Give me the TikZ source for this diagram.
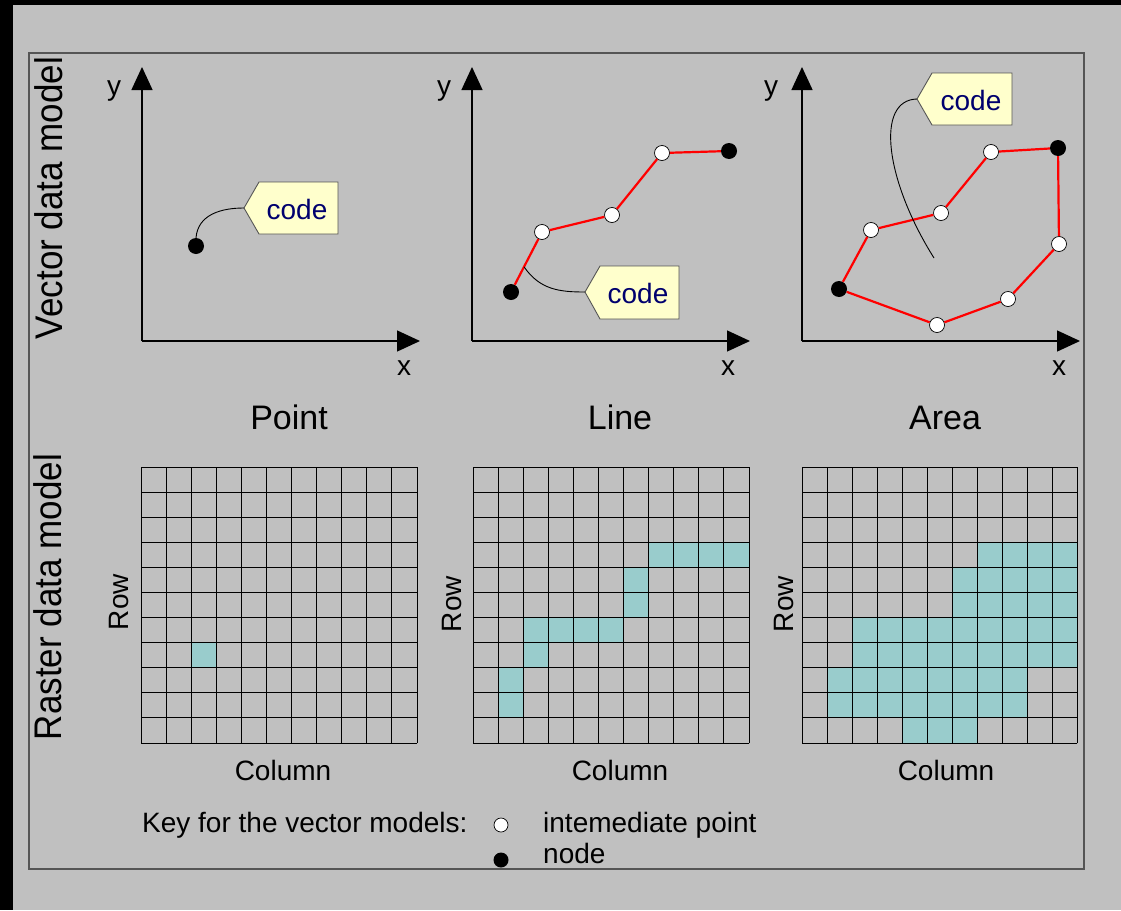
\documentclass[tikz,border=0pt]{standalone}
\usepackage{fontspec}
\setmainfont{Liberation Sans}
\usetikzlibrary{arrows.meta,calc}
\definecolor{bggray}{RGB}{192,192,192}
\definecolor{framegray}{RGB}{85,85,85}
\definecolor{tagfill}{RGB}{255,255,204}
\definecolor{codeblue}{RGB}{0,0,110}
\definecolor{cellfill}{RGB}{153,204,204}
\newcommand\myfs[1]{\fontsize{#1}{#1}\selectfont}
\newcommand\rastergrid{%
  \foreach \k in {0,...,11} {
    \draw[gridln] (\k,0) -- (\k,11);
    \draw[gridln] (0,\k) -- (11,\k);
  }}
\tikzset{
  axis/.style={-{Triangle[length=23pt,width=21pt]}, line width=1.3pt, black},
  inter/.style={circle, draw=black, fill=white, minimum size=15pt, inner sep=0pt, line width=0.7pt},
  nodept/.style={circle, fill=black, minimum size=16pt, inner sep=0pt},
  redline/.style={red, line width=2.2pt},
  leader/.style={black, line width=0.9pt},
  tagshape/.style={draw=framegray, fill=tagfill, line width=0.9pt},
  codetext/.style={text=codeblue, font=\myfs{28}, inner sep=0pt},
  lbl/.style={font=\myfs{28}, inner sep=0pt, anchor=base},
  title/.style={font=\myfs{34}, inner sep=0pt, anchor=base},
  gridln/.style={black, line width=0.9pt, line cap=rect},
  keytext/.style={anchor=base west, inner sep=0pt, font=\myfs{28}},
}
\begin{document}
\begin{tikzpicture}[x=1pt,y=-1pt]
\useasboundingbox (0,0) rectangle (1121,910);
\fill[bggray] (0,0) rectangle (1121,910);
\fill[black] (0,0) rectangle (1121,5);
\fill[black] (0,0) rectangle (13,910);
\draw[framegray, line width=1.2pt] (29,53) rectangle (1084,869);

% side labels
\node[rotate=90, anchor=base, inner sep=0pt, font=\myfs{35}] (vlab) at (62,198) {\scalebox{1}[1.1]{Vector data model}};
\node[rotate=90, anchor=base, inner sep=0pt, font=\myfs{35}] (rlab) at (61,597) {\scalebox{1}[1.1]{Raster data model}};

% ---------- axes ----------
\coordinate (o1) at (142,341);
\coordinate (o2) at (472,341);
\coordinate (o3) at (802,341);
\coordinate (y1) at (142,67);
\coordinate (y2) at (472,67);
\coordinate (y3) at (802,67);
\coordinate (x1) at (420,341);
\coordinate (x2) at (750,341);
\coordinate (x3) at (1080,341);
\draw[axis] (o1) -- (y1);
\draw[axis] (o1) -- (x1);
\draw[axis] (o2) -- (y2);
\draw[axis] (o2) -- (x2);
\draw[axis] (o3) -- (y3);
\draw[axis] (o3) -- (x3);
\node[lbl] (ly1) at (114,95) {y};
\node[lbl] (ly2) at (444,95) {y};
\node[lbl] (ly3) at (771,95) {y};
\node[lbl] (lx1) at (404,375) {x};
\node[lbl] (lx2) at (728,375) {x};
\node[lbl] (lx3) at (1059,375) {x};

% ---------- Point ----------
\node[nodept] (p1) at (196,246) {};
\coordinate (ptip) at (244,208);
\draw[tagshape] (ptip) -- ++(15,-26) -- ++(79,0) -- ++(0,52) -- ++(-79,0) -- cycle;
\node[codetext] (ptag) at (297,209) {code};
\draw[leader] (p1.north) .. controls (198,214) and (222,208) .. (ptip);

% ---------- Line ----------
\node[nodept] (l1) at (511,292) {};
\node[inter] (l2) at (542,232) {};
\node[inter] (l3) at (612,215) {};
\node[inter] (l4) at (662,153) {};
\node[nodept] (l5) at (729,151) {};
\draw[redline] (l1) -- (l2) -- (l3) -- (l4) -- (l5);
\coordinate (lfree) at ($(l1)!0.42!(l2)$);
\coordinate (ltip) at (585,292);
\draw[tagshape] (ltip) -- ++(15,-26) -- ++(79,0) -- ++(0,53) -- ++(-79,0) -- cycle;
\node[codetext] (ltag) at (638,293) {code};
\draw[leader] (lfree) .. controls (540,290) and (560,292) .. (ltip);

% ---------- Area ----------
\node[nodept] (a1) at (839,289) {};
\node[inter] (a2) at (871,230) {};
\node[inter] (a3) at (941,213) {};
\node[inter] (a4) at (991,152) {};
\node[nodept] (a5) at (1058,148) {};
\node[inter] (a6) at (1059,244) {};
\node[inter] (a7) at (1008,299) {};
\node[inter] (a8) at (937,325) {};
\draw[redline] (a1) -- (a2) -- (a3) -- (a4) -- (a5) -- (a6) -- (a7) -- (a8) -- (a1);
\coordinate (atip) at (917,99);
\coordinate (afree) at (934,258);
\draw[tagshape] (atip) -- ++(15,-26) -- ++(80,0) -- ++(0,52) -- ++(-80,0) -- cycle;
\node[codetext] (atag) at (971,100) {code};
\draw[leader] (atip) .. controls (875,100) and (885,180) .. (afree);

% titles
\node[title] (tpoint) at (289,429) {Point};
\node[title] (tline) at (620,429) {Line};
\node[title] (tarea) at (945,429) {Area};

% ---------- grids ----------
\begin{scope}[shift={(141,467)}, x=25.09pt, y=-25.09pt]
  \fill[cellfill] (2,7) rectangle (3,8);
  \rastergrid
\end{scope}
\begin{scope}[shift={(473,467)}, x=25.09pt, y=-25.09pt]
  \fill[cellfill] (7,3) rectangle (11,4);
  \fill[cellfill] (6,4) rectangle (7,6);
  \fill[cellfill] (2,6) rectangle (6,7);
  \fill[cellfill] (2,7) rectangle (3,8);
  \fill[cellfill] (1,8) rectangle (2,10);
  \rastergrid
\end{scope}
\begin{scope}[shift={(802,467)}, x=25.0pt, y=-25.09pt]
  \fill[cellfill] (7,3) rectangle (11,4);
  \fill[cellfill] (6,4) rectangle (11,6);
  \fill[cellfill] (2,6) rectangle (11,8);
  \fill[cellfill] (1,8) rectangle (9,10);
  \fill[cellfill] (4,10) rectangle (7,11);
  \rastergrid
\end{scope}

\node[lbl] (c1) at (283,780) {Column};
\node[lbl] (c2) at (620,780) {Column};
\node[lbl] (c3) at (946,780) {Column};
\node[lbl, rotate=90] (r1) at (128,602) {Row};
\node[lbl, rotate=90] (r2) at (461,604) {Row};
\node[lbl, rotate=90] (r3) at (793,604) {Row};

% ---------- key ----------
\node[keytext] (keylbl) at (142,832) {Key for the vector models:};
\node[circle, draw=black, fill=white, minimum size=14pt, inner sep=0pt, line width=0.7pt] (kwhite) at (501,825) {};
\node[circle, fill=black, minimum size=15pt, inner sep=0pt] (kblack) at (501,860) {};
\node[keytext] (kint) at (543,832) {intemediate point};
\node[keytext] (knode) at (543,863) {node};
\end{tikzpicture}
\end{document}
